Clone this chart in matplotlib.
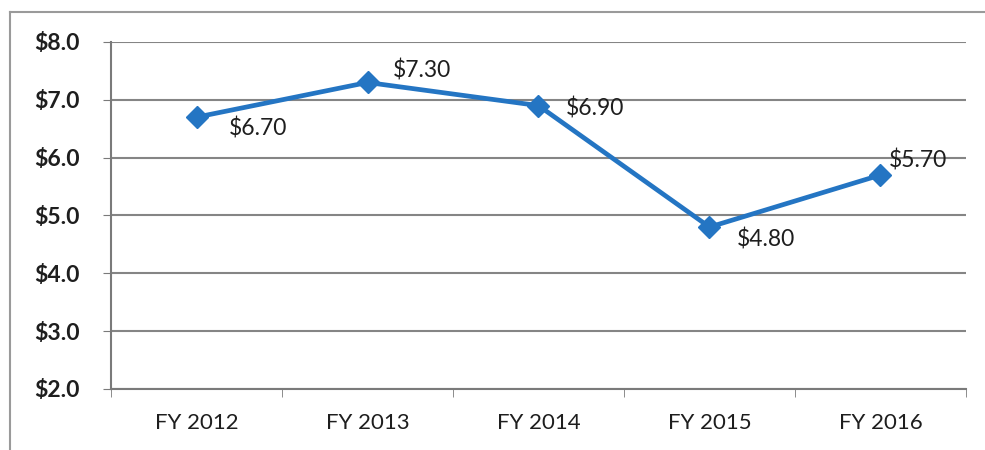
import matplotlib
matplotlib.use("Agg")
import matplotlib.pyplot as plt
from matplotlib.lines import Line2D

years = ["FY 2012", "FY 2013", "FY 2014", "FY 2015", "FY 2016"]
costs = [6.70, 7.30, 6.90, 4.80, 5.70]
yticks = [2.0, 3.0, 4.0, 5.0, 6.0, 7.0, 8.0]
# pixel offsets of each value label from its point
label_offsets = [(32, -11), (25, 12), (27, -3), (27, -12), (8, 14)]

plt.rcParams["font.family"] = ["Lato", "DejaVu Sans"]

fig = plt.figure(figsize=(9.85, 4.5), dpi=100)
ax = fig.add_axes([0.1127, 0.1356, 0.868, 0.7711])

x = list(range(len(years)))
ax.plot(x, costs, color="#2475c3", linewidth=3.4, marker="D", markersize=11,
        zorder=3)

for xi, v, (dx, dy) in zip(x, costs, label_offsets):
    ax.annotate(f"${v:.2f}", (xi, v), xytext=(dx, dy), textcoords="offset pixels",
                ha="left", va="center", fontsize=16.5, color="#1e1e1e", zorder=4)

ax.set_xlim(-0.5, len(years) - 0.5)
ax.set_ylim(2.0, 8.0)
ax.set_yticks(yticks)
ax.set_yticklabels([f"${t:.1f}" for t in yticks], fontsize=16.5,
                   fontweight="bold", color="#1e1e1e")
ax.set_xticks(x)
ax.set_xticklabels(years, fontsize=16, color="#1e1e1e")
ax.set_xticks([i - 0.5 for i in range(len(years) + 1)], minor=True)

ax.grid(axis="y", color="#858585", linewidth=1.5)
ax.set_axisbelow(True)
for side in ["top", "right"]:
    ax.spines[side].set_visible(False)
ax.spines["left"].set_color("#7a7a7a")
ax.spines["bottom"].set_color("#7a7a7a")
ax.spines["left"].set_linewidth(1.5)
ax.spines["bottom"].set_linewidth(1.5)

ax.tick_params(axis="y", length=6, color="#7a7a7a", pad=16.5)
ax.tick_params(axis="x", which="major", length=0, pad=17)
ax.tick_params(axis="x", which="minor", length=6, color="#7a7a7a")

# outer chart frame
fig.add_artist(Line2D([0.0102, 0.0102], [0.0, 0.973], color="#9a9a9a", linewidth=1.5))
fig.add_artist(Line2D([0.0102, 1.0], [0.973, 0.973], color="#9a9a9a", linewidth=1.5))

fig.savefig("out.png", dpi=100, facecolor="white")
